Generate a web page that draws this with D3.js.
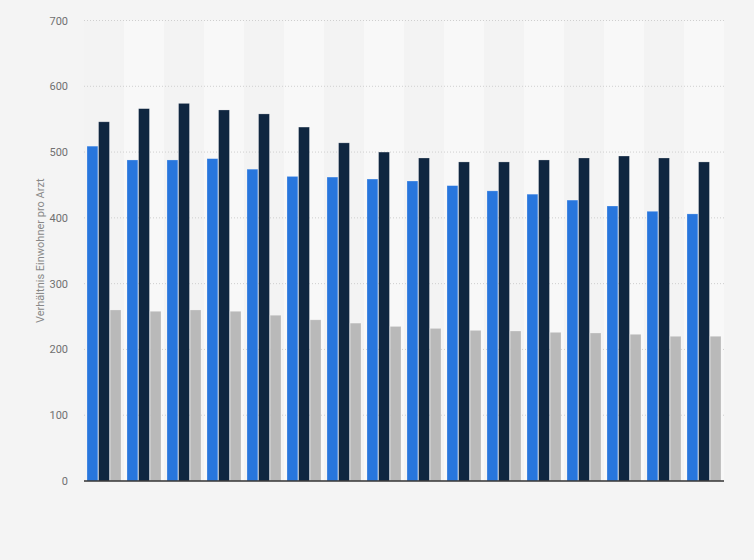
<!DOCTYPE html>
<html>
<head>
<meta charset="utf-8">
<script src="https://cdn.jsdelivr.net/npm/d3@7"></script>
<style>
  html, body { margin: 0; padding: 0; background: #f4f4f4; }
  #chart { width: 754px; height: 560px; }
</style>
</head>
<body>
<div id="chart"></div>
<script>
// one entry per group (labels not shown in the chart)
var groups = ["1","2","3","4","5","6","7","8","9","10","11","12","13","14","15","16"];
var seriesNames = ["Serie 1", "Serie 2", "Serie 3"];
var blueValues = [509, 488, 488, 490, 474, 463, 462, 459, 456, 449, 441, 436, 427, 418, 410, 406];
var navyValues = [546, 566, 574, 564, 558, 538, 514, 500, 491, 485, 485, 488, 491, 494, 491, 485];
var grayValues = [260, 258, 260, 258, 252, 245, 240, 235, 232, 229, 228, 226, 225, 223, 220, 220];
var yTicks = [0, 100, 200, 300, 400, 500, 600, 700];
var colors = ["#2876dd", "#0f2640", "#b9b9b9"];

var width = 754, height = 560;
var margin = {top: 20.5, right: 30, bottom: 79, left: 84};

var svg = d3.select("#chart").append("svg")
    .attr("width", width)
    .attr("height", height)
    .style("font-family", "Roboto, Arial, sans-serif");

var g = svg.append("g").attr("transform", "translate(" + margin.left + "," + margin.top + ")");
var w = width - margin.left - margin.right;
var h = height - margin.top - margin.bottom;

var x = d3.scaleBand().domain(groups).range([0, w]);
var x1 = d3.scaleBand().domain(seriesNames).range([3, x.bandwidth() - 3]).paddingInner(0.06);
var y = d3.scaleLinear().domain([0, 700]).range([h, 0]);

// alternating column backgrounds
g.selectAll(".band")
  .data(groups)
  .enter().append("rect")
  .attr("x", function(d) { return x(d); })
  .attr("y", 0)
  .attr("width", x.bandwidth())
  .attr("height", h)
  .attr("fill", function(d, i) { return i % 2 ? "#f8f8f8" : "#f3f3f3"; });

// gridlines
g.selectAll(".grid")
  .data(yTicks.filter(function(t) { return t > 0; }))
  .enter().append("line")
  .attr("x1", 0).attr("x2", w)
  .attr("y1", function(d) { return y(d); })
  .attr("y2", function(d) { return y(d); })
  .attr("stroke", "#cfcfcf")
  .attr("stroke-width", 1)
  .attr("stroke-dasharray", "1,2");

// y tick labels
var yAxis = d3.axisLeft(y).tickValues(yTicks).tickSize(0).tickPadding(16);
var ya = g.append("g").call(yAxis);
ya.select(".domain").remove();
ya.selectAll("text").attr("fill", "#707070").style("font-size", "11px")
  .style("font-family", "Roboto, Arial, sans-serif");

var data = groups.map(function(k, i) {
  return {key: k, vals: [blueValues[i], navyValues[i], grayValues[i]]};
});

var grp = g.selectAll(".grp")
  .data(data)
  .enter().append("g")
  .attr("transform", function(d) { return "translate(" + x(d.key) + ",0)"; });

grp.selectAll("rect")
  .data(function(d) { return d.vals.map(function(v, j) { return {name: seriesNames[j], v: v, j: j}; }); })
  .enter().append("rect")
  .attr("x", function(d) { return x1(d.name); })
  .attr("width", x1.bandwidth())
  .attr("y", function(d) { return y(d.v); })
  .attr("height", function(d) { return h - y(d.v); })
  .attr("fill", function(d) { return colors[d.j]; })
  .attr("stroke", "rgba(255,255,255,0.35)")
  .attr("stroke-width", 0.7);

// x axis line
g.append("line")
  .attr("x1", 0).attr("x2", w)
  .attr("y1", h).attr("y2", h)
  .attr("stroke", "#333")
  .attr("stroke-width", 1.5);

// y axis title
svg.append("text")
  .attr("transform", "translate(44," + (margin.top + h / 2) + ") rotate(-90)")
  .attr("text-anchor", "middle")
  .attr("fill", "#888")
  .style("font-size", "11px")
  .text("Verhältnis Einwohner pro Arzt");
</script>
</body>
</html>
